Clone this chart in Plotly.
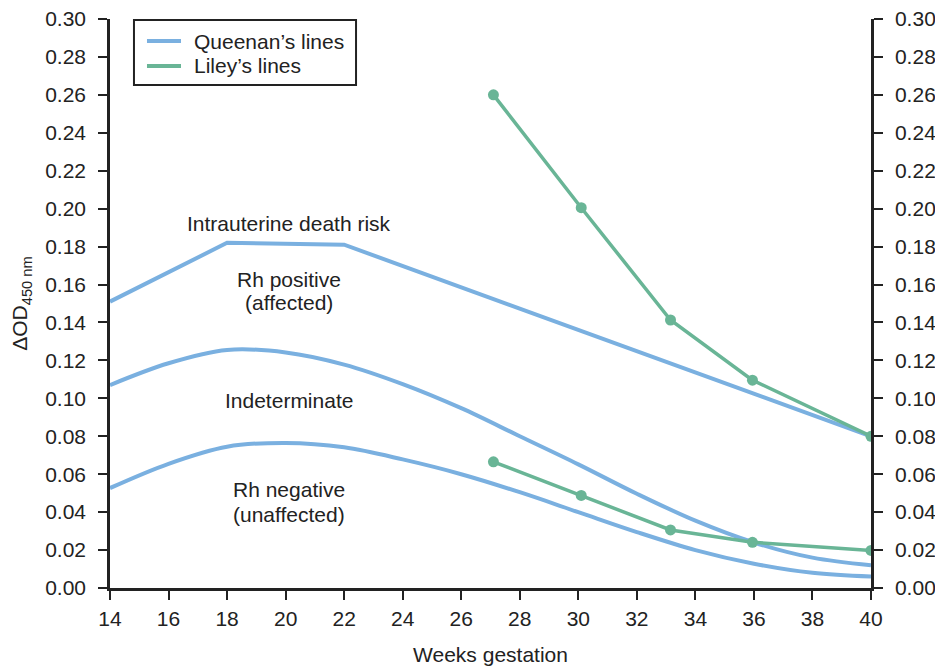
import plotly.graph_objects as go

# Queenan's lines
q_upper_x = [14, 18, 22, 40]
q_upper_y = [0.151, 0.182, 0.181, 0.080]
q_mid_x = [14, 16, 18, 20, 22, 24, 26, 28, 30, 32, 34, 36, 38, 40]
q_mid_y = [0.107, 0.1185, 0.1255, 0.1242, 0.1178, 0.1075, 0.0948, 0.080, 0.0652, 0.0497, 0.0355, 0.024, 0.016, 0.012]
q_low_x = [14, 16, 18, 20, 22, 24, 26, 28, 30, 32, 34, 36, 38, 40]
q_low_y = [0.0527, 0.0655, 0.0745, 0.0765, 0.0742, 0.0678, 0.060, 0.0505, 0.040, 0.0295, 0.020, 0.0128, 0.008, 0.006]

# Liley's lines
l_upper_x = [27.1, 30.1, 33.15, 35.95, 40]
l_upper_y = [0.260, 0.2005, 0.1413, 0.1096, 0.080]
l_low_x = [27.1, 30.1, 33.15, 35.95, 40]
l_low_y = [0.0665, 0.0488, 0.0306, 0.0241, 0.0198]

x_ticks = list(range(14, 41, 2))
y_ticks = [i / 100 for i in range(0, 31, 2)]

zone_labels = ["Intrauterine death risk", "Rh positive", "(affected)", "Indeterminate", "Rh negative", "(unaffected)"]
zone_x = [20.115, 20.115, 20.115, 20.115, 20.115, 20.115]
zone_y = [0.1923, 0.1624, 0.1503, 0.0991, 0.0517, 0.0385]

legend_names = ["Queenan\u2019s lines", "Liley\u2019s lines"]

BLUE = "#7AB0E0"
GREEN = "#69B596"
INK = "#222222"
FONT = "Liberation Sans, Arial, sans-serif"
FS = 21

fig = go.Figure()
fig.add_trace(go.Scatter(x=q_upper_x, y=q_upper_y, mode="lines", line=dict(color=BLUE, width=4),
                         name=legend_names[0], showlegend=False))
fig.add_trace(go.Scatter(x=q_mid_x, y=q_mid_y, mode="lines", line=dict(color=BLUE, width=4, shape="spline"),
                         name=legend_names[0], showlegend=False))
fig.add_trace(go.Scatter(x=q_low_x, y=q_low_y, mode="lines", line=dict(color=BLUE, width=4, shape="spline"),
                         name=legend_names[0], showlegend=False))
fig.add_trace(go.Scatter(x=l_upper_x, y=l_upper_y, mode="lines+markers", line=dict(color=GREEN, width=3.5),
                         marker=dict(size=11, color=GREEN), name=legend_names[1], showlegend=False))
fig.add_trace(go.Scatter(x=l_low_x, y=l_low_y, mode="lines+markers", line=dict(color=GREEN, width=3.5),
                         marker=dict(size=11, color=GREEN), name=legend_names[1], showlegend=False))
# invisible trace to anchor right axis
fig.add_trace(go.Scatter(x=[14, 40], y=[0, 0.3], yaxis="y2", mode="markers",
                         marker=dict(opacity=0), showlegend=False, hoverinfo="skip"))

for t, xx, yy in zip(zone_labels, zone_x, zone_y):
    fig.add_annotation(x=xx, y=yy, text=t, showarrow=False, font=dict(size=FS, color=INK),
                       xanchor="center", yanchor="middle")

# legend box drawn in paper coordinates
fig.add_shape(type="rect", xref="paper", yref="paper", x0=0.0315, x1=0.3233, y0=0.884, y1=0.9982,
              line=dict(color=INK, width=2), fillcolor="white", layer="above")
for i, (nm, col) in enumerate(zip(legend_names, [BLUE, GREEN])):
    yy = [0.9613, 0.9174][i]
    fig.add_shape(type="line", xref="paper", yref="paper", x0=0.0486, x1=0.0933, y0=yy, y1=yy,
                  line=dict(color=col, width=4), layer="above")
    fig.add_annotation(xref="paper", yref="paper", x=0.1078, y=yy, text=nm, showarrow=False,
                       xanchor="left", yanchor="middle", font=dict(size=FS, color=INK))

axis_common = dict(showline=True, linecolor=INK, linewidth=2.5, ticks="outside", ticklen=9,
                   tickwidth=2, tickcolor=INK, showgrid=False, zeroline=False, automargin=False,
                   tickfont=dict(size=FS, color=INK, family=FONT))

fig.update_layout(
    width=935, height=666,
    margin=dict(l=110, r=64, t=19, b=78),
    paper_bgcolor="white", plot_bgcolor="white",
    font=dict(family=FONT, color=INK, size=FS),
    xaxis=dict(range=[14, 40], tickvals=x_ticks, ticklabelstandoff=1, **axis_common,
               title=dict(text="Weeks gestation", font=dict(size=FS), standoff=24)),
    yaxis=dict(range=[0, 0.3], tickvals=y_ticks, tickformat=".2f", ticklabelstandoff=8, **axis_common,
               title=dict(text="\u0394OD<sub>450 nm</sub>", font=dict(size=FS), standoff=12)),
    yaxis2=dict(range=[0, 0.3], tickvals=y_ticks, tickformat=".2f", overlaying="y", side="right",
                anchor="x", ticklabelstandoff=8, **axis_common),
    showlegend=False,
)

fig.write_html("out.html")
